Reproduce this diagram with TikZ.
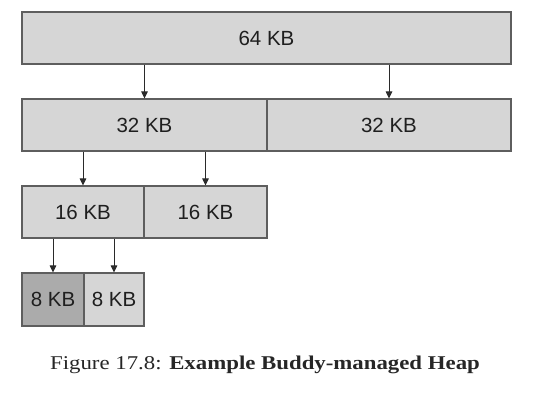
\documentclass[tikz,border=0pt]{standalone}
\usepackage{fontspec}
\setmainfont{Liberation Serif}
\newfontfamily\boxfont{Liberation Sans}
\newfontfamily\capfont[FakeStretch=1.17]{Liberation Serif}
\usetikzlibrary{arrows.meta}
\definecolor{boxfill}{HTML}{D6D6D6}
\definecolor{darkfill}{HTML}{ABABAB}
\definecolor{boxline}{HTML}{5E5E5E}
\definecolor{arrowcol}{HTML}{2A2A2A}
\begin{document}
\begin{tikzpicture}[x=1pt,y=1pt,
  blk/.style={draw=boxline, line width=1.1pt, fill=boxfill, inner sep=0pt,
    minimum height=52pt, font=\boxfont\fontsize{20.5}{24}\selectfont, text=black!88},
  link/.style={draw=arrowcol, line width=1pt, -{Triangle[length=7pt,width=6.5pt]}}]
\useasboundingbox (0,0) rectangle (540,-402);
\node[blk, minimum width=489pt] (k64) at (266.5,-38) {64 KB};
\node[blk, minimum width=245pt] (k32a) at (144.5,-125) {32 KB};
\node[blk, minimum width=244pt] (k32b) at (389,-125) {32 KB};
\node[blk, minimum width=122pt] (k16a) at (83,-212) {16 KB};
\node[blk, minimum width=123pt] (k16b) at (205.5,-212) {16 KB};
\node[blk, minimum width=62pt, minimum height=53pt, fill=darkfill] (k8a) at (53,-299.5) {8 KB};
\node[blk, minimum width=60pt, minimum height=53pt] (k8b) at (114,-299.5) {8 KB};
\draw[link] (k32a.north |- k64.south) -- (k32a.north);
\draw[link] (k32b.north |- k64.south) -- (k32b.north);
\draw[link] (k16a.north |- k32a.south) -- (k16a.north);
\draw[link] (k16b.north |- k32a.south) -- (k16b.north);
\draw[link] (k8a.north |- k16a.south) -- (k8a.north);
\draw[link] (k8b.north |- k16a.south) -- (k8b.north);
\node[font=\capfont\fontsize{19.5}{23}\selectfont, text=black!85] (cap) at (265,-365) {Figure 17.8: \textbf{Example Buddy-managed Heap}};
\end{tikzpicture}
\end{document}
